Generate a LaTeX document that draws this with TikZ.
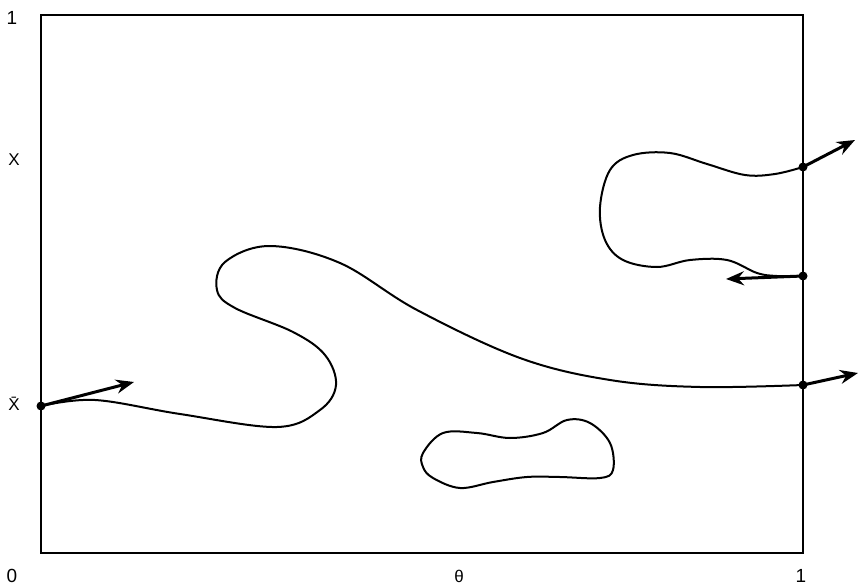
\documentclass[tikz,border=0pt]{standalone}
\usepackage{fontspec}
\setmainfont{Liberation Sans}
\usetikzlibrary{arrows.meta}
\begin{document}
\begin{tikzpicture}[x=1pt,y=-1pt,
  curve/.style={line width=2pt,line join=round},
  vec/.style={line width=3pt,-{Stealth[length=18pt,width=14pt,inset=6pt]}},
  pt/.style={circle,fill=black,inner sep=0pt,minimum size=9pt},
  lbl/.style={font=\fontsize{19}{19}\selectfont,inner sep=0pt},
  slbl/.style={font=\fontsize{17}{17}\selectfont,inner sep=0pt}]
\useasboundingbox (0,0) rectangle (859,586);
\draw[line width=2.5pt] (41,15) rectangle (803,553);
% labels
\node[lbl] (one) at (12,18) {1};
\node[slbl] (x) at (14,160) {X};
\node[slbl] (xbar) at (14,404) {\=X};
\node[lbl] (zero) at (12,576) {0};
\node[slbl] (theta) at (459,576) {θ};
\node[lbl] (oneb) at (801,576) {1};
% points
\node[pt] (p0) at (41,406) {};
\node[pt] (p1) at (803,167) {};
\node[pt] (p2) at (803,276) {};
\node[pt] (p3) at (803,385) {};
\coordinate (a0) at (134,382);
\coordinate (a1) at (855,140);
\coordinate (a2) at (726,279);
\coordinate (a3) at (858,373);
% main curve
\draw[curve] plot[smooth,tension=0.6] coordinates {(41,406) (95,400) (180,414) (277,427) (320,410) (336,385) (325,355) (293,332) (235,308) (217,290) (225,262) (270,246) (340,263) (417,310) (520,358) (610,380) (700,387) (803,385)};
% upper right loop
\draw[curve] plot[smooth,tension=0.6] coordinates {(803,167) (775,174) (745,175) (707,164) (670,153) (633,155) (610,170) (600,207) (605,240) (623,260) (657,267) (690,260) (727,260) (757,273) (777,276) (803,276)};
% small blob
\draw[curve] plot[smooth cycle,tension=0.6] coordinates {(423,453) (443,433) (477,433) (510,438) (543,433) (567,420) (590,423) (610,443) (613,470) (600,478) (560,477) (527,477) (493,482) (460,488) (433,478) (423,467)};
% arrows
\draw[vec] (p0.center) -- (a0);
\draw[vec] (p1.center) -- (a1);
\draw[vec] (p2.center) -- (a2);
\draw[vec] (p3.center) -- (a3);
\end{tikzpicture}
\end{document}
